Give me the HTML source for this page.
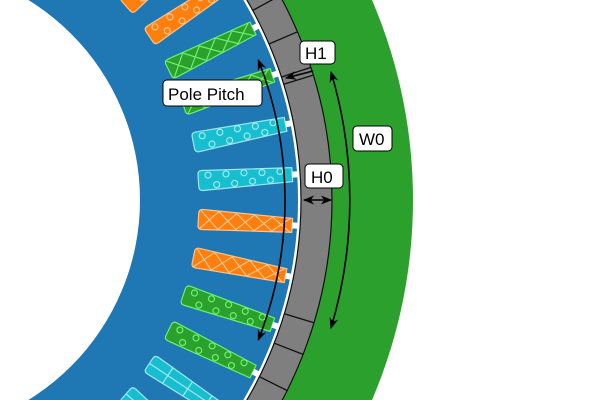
<!DOCTYPE html>
<html><head><style>
html,body{margin:0;padding:0;background:#fff;overflow:hidden;width:600px;height:400px;}
svg{display:block;}
text{font-family:"Liberation Sans",sans-serif;font-size:17px;fill:#000;}
</style></head><body>
<svg width="600" height="400" viewBox="0 0 600 400">
<defs>
<marker id="a" viewBox="0 0 10 10" refX="9" refY="5" markerWidth="7" markerHeight="7" orient="auto-start-reverse">
<path d="M0,1 L10,5 L0,9 L3,5 Z" fill="#000"/></marker>
<path id="sl" d="M298,-10 L388,-7 L388,7 L298,10 Q294,10 294,6 L294,-6 Q294,-10 298,-10 Z"/>
<g id="circ" fill="none"><circle cx="304" cy="-5" r="3"/><circle cx="322" cy="-5" r="3"/><circle cx="340" cy="-5" r="3"/><circle cx="358" cy="-4" r="3"/><circle cx="376" cy="-4" r="3"/><circle cx="312" cy="5" r="3"/><circle cx="330" cy="5" r="3"/><circle cx="348" cy="4" r="3"/><circle cx="366" cy="4" r="3"/></g>
<g id="cross" fill="none"><path d="M296,9 L314,-9 L332,8 L350,-8 L368,7 L386,-7 M296,-9 L314,9 L332,-8 L350,8 L368,-7 L386,7"/></g>
<g id="grid" fill="none"><path d="M294,0 L388,0 M316,-10 L316,10 M340,-9 L340,9 M364,-8 L364,8"/></g>
</defs>
<rect width="600" height="400" fill="#fff"/>
<g transform="translate(-95,200)">
<circle r="508" fill="#2ca02c"/>
<circle r="427" fill="#7f7f7f" stroke="#111" stroke-width="1.2"/>
<circle r="396" fill="#fff" stroke="#111" stroke-width="1.2"/>
<circle r="393" fill="#1f77b4"/>
<circle r="235" fill="#fff"/>
<g stroke="#111" stroke-width="1.3">
<line x1="396" y1="0" x2="427" y2="0" transform="rotate(-33.5)"/>
<line x1="396" y1="0" x2="427" y2="0" transform="rotate(-28.6)"/>
<line x1="396" y1="0" x2="427" y2="0" transform="rotate(-23.2)"/>
<line x1="396" y1="0" x2="427" y2="0" transform="rotate(-18.1)"/>
<line x1="396" y1="0" x2="427" y2="0" transform="rotate(-17)"/>
<line x1="396" y1="0" x2="427" y2="0" transform="rotate(16.7)"/>
<line x1="396" y1="0" x2="427" y2="0" transform="rotate(21.2)"/>
<line x1="396" y1="0" x2="427" y2="0" transform="rotate(26.5)"/>
<line x1="396" y1="0" x2="427" y2="0" transform="rotate(31.5)"/>
</g>
<g stroke-width="1.2">
<g transform="rotate(-48.75)" fill="#17becf" stroke="#9eeaf2"><use href="#sl"/><use href="#grid"/></g>
<g transform="rotate(-41.25)" fill="#ff7f0e" stroke="#ffc48a"><use href="#sl"/><use href="#circ"/></g>
<g transform="rotate(-33.75)" fill="#ff7f0e" stroke="#ffc48a"><use href="#sl"/><use href="#circ"/></g>
<g transform="rotate(-26.25)" fill="#2ca02c" stroke="#6ef06e"><use href="#sl"/><use href="#cross"/></g>
<g transform="rotate(-18.75)" fill="#2ca02c" stroke="#6ef06e"><use href="#sl"/><use href="#cross"/></g>
<g transform="rotate(-11.25)" fill="#17becf" stroke="#9eeaf2"><use href="#sl"/><use href="#circ"/></g>
<g transform="rotate(-3.75)" fill="#17becf" stroke="#9eeaf2"><use href="#sl"/><use href="#circ"/></g>
<g transform="rotate(3.75)" fill="#ff7f0e" stroke="#ffc48a"><use href="#sl"/><use href="#cross"/></g>
<g transform="rotate(11.25)" fill="#ff7f0e" stroke="#ffc48a"><use href="#sl"/><use href="#cross"/></g>
<g transform="rotate(18.75)" fill="#2ca02c" stroke="#6ef06e"><use href="#sl"/><use href="#circ"/></g>
<g transform="rotate(26.25)" fill="#2ca02c" stroke="#6ef06e"><use href="#sl"/><use href="#circ"/></g>
<g transform="rotate(33.75)" fill="#17becf" stroke="#9eeaf2"><use href="#sl"/><use href="#grid"/></g>
<g transform="rotate(41.25)" fill="#17becf" stroke="#9eeaf2"><use href="#sl"/><use href="#grid"/></g>
</g>
<g fill="#fff">
<rect x="388" y="-3" width="6" height="6" transform="rotate(-33.75)"/>
<rect x="388" y="-3" width="6" height="6" transform="rotate(-26.25)"/>
<rect x="388" y="-3" width="6" height="6" transform="rotate(-18.75)"/>
<rect x="388" y="-3" width="6" height="6" transform="rotate(-11.25)"/>
<rect x="388" y="-3" width="6" height="6" transform="rotate(-3.75)"/>
<rect x="388" y="-3" width="6" height="6" transform="rotate(3.75)"/>
<rect x="388" y="-3" width="6" height="6" transform="rotate(11.25)"/>
<rect x="388" y="-3" width="6" height="6" transform="rotate(18.75)"/>
<rect x="388" y="-3" width="6" height="6" transform="rotate(26.25)"/>
<rect x="388" y="-3" width="6" height="6" transform="rotate(33.75)"/>
</g>
</g>
<g fill="none" stroke="#000" stroke-width="1.6">
<path d="M258.3,60 A380,380 0 0 1 258.3,340" marker-start="url(#a)" marker-end="url(#a)"/>
<path d="M331,72 A445,445 0 0 1 331,328" marker-start="url(#a)" marker-end="url(#a)"/>
<line x1="304" y1="200" x2="331" y2="200" marker-start="url(#a)" marker-end="url(#a)"/>
<line x1="313" y1="71" x2="286" y2="78" marker-end="url(#a)"/>
</g>
<g stroke="#000" stroke-width="1" fill="#fff">
<rect x="163" y="80" width="99" height="26" rx="4"/>
<rect x="300" y="41" width="35" height="23" rx="4"/>
<rect x="353" y="126" width="39" height="25" rx="4"/>
<rect x="305" y="164" width="38" height="24" rx="4"/>
</g>
<text x="168" y="100">Pole Pitch</text>
<text x="305" y="59">H1</text>
<text x="359" y="145">W0</text>
<text x="311" y="183">H0</text>
</svg>
</body></html>
